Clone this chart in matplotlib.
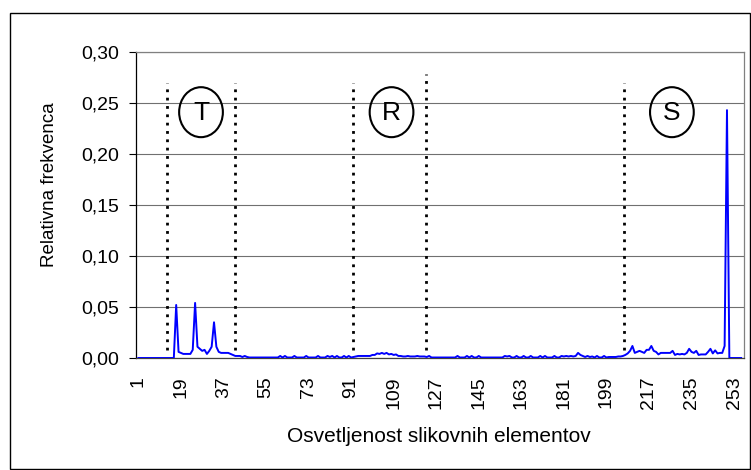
import matplotlib
matplotlib.use("Agg")
import matplotlib.pyplot as plt
from matplotlib.patches import Ellipse, Rectangle
from matplotlib.ticker import FuncFormatter

plt.rcParams['font.family'] = ['Liberation Sans', 'DejaVu Sans']

# Relative frequency per brightness level 1..256
values = [
    0, 0, 0, 0, 0, 0, 0, 0, 0, 0,
    0, 0, 0, 0, 0, 0, 0.052, 0.006, 0.005, 0.004,
    0.004, 0.004, 0.004, 0.008, 0.054, 0.011, 0.009, 0.007, 0.008, 0.004,
    0.007, 0.011, 0.035, 0.011, 0.006, 0.005, 0.005, 0.005, 0.005, 0.004,
    0.003, 0.002, 0.002, 0.002, 0.001, 0.002, 0.001, 0.0005, 0.0005, 0.0005,
    0.0005, 0.0005, 0.0005, 0.0005, 0.0005, 0.0005, 0.0005, 0.0005, 0.0005, 0.0005,
    0.002, 0.0005, 0.002, 0.0005, 0.0005, 0.0005, 0.002, 0.0005, 0.0005, 0.0005,
    0.0005, 0.002, 0.0005, 0.0005, 0.0005, 0.0005, 0.002, 0.0005, 0.0005, 0.0005,
    0.002, 0.001, 0.002, 0.0005, 0.002, 0.0005, 0.0005, 0.002, 0.0005, 0.002,
    0.0005, 0.001, 0.0015, 0.002, 0.002, 0.002, 0.002, 0.002, 0.002, 0.003,
    0.003, 0.0045, 0.004, 0.005, 0.004, 0.005, 0.0035, 0.004, 0.003, 0.0035,
    0.002, 0.002, 0.0015, 0.0015, 0.002, 0.0015, 0.0015, 0.0015, 0.002, 0.0015,
    0.0015, 0.0015, 0.001, 0.002, 0.0005, 0.0005, 0.0005, 0.0005, 0.0005, 0.0005,
    0.0005, 0.0005, 0.0005, 0.0005, 0.0005, 0.002, 0.0005, 0.0005, 0.0005, 0.002,
    0.0005, 0.002, 0.0005, 0.0005, 0.002, 0.0005, 0.0005, 0.0005, 0.0005, 0.0005,
    0.0005, 0.0005, 0.0005, 0.0005, 0.0005, 0.002, 0.0015, 0.002, 0.0005, 0.0005,
    0.002, 0.0005, 0.0005, 0.002, 0.0005, 0.0005, 0.002, 0.0005, 0.0005, 0.0005,
    0.002, 0.0005, 0.002, 0.0005, 0.0005, 0.0005, 0.002, 0.0005, 0.0005, 0.002,
    0.0015, 0.002, 0.0015, 0.002, 0.0015, 0.002, 0.005, 0.003, 0.002, 0.001,
    0.002, 0.001, 0.0015, 0.0005, 0.002, 0.0005, 0.0005, 0.002, 0.0005, 0.001,
    0.001, 0.001, 0.001, 0.0015, 0.0015, 0.002, 0.003, 0.0045, 0.007, 0.0118,
    0.005, 0.006, 0.007, 0.006, 0.005, 0.008, 0.008, 0.0118, 0.007, 0.006,
    0.0035, 0.005, 0.005, 0.005, 0.005, 0.005, 0.007, 0.003, 0.004, 0.0035,
    0.004, 0.0035, 0.005, 0.009, 0.006, 0.005, 0.007, 0.003, 0.0035, 0.0035,
    0.0035, 0.006, 0.009, 0.0045, 0.0075, 0.0045, 0.005, 0.005, 0.0118, 0.243,
    0, 0, 0, 0, 0, 0,
]
levels = list(range(1, len(values) + 1))
xtick_labels = list(range(1, 254, 18))
yticks = [0.0, 0.05, 0.10, 0.15, 0.20, 0.25, 0.30]

# region separators and labels
sep_x = [13.2, 41.7, 91.8, 122.6, 206.3]
sep_top = [0.270, 0.270, 0.270, 0.278, 0.270]
region_names = ["T", "R", "S"]
region_x = [27.5, 108.1, 226.7]
region_y = [0.241, 0.241, 0.241]

W, H = 751, 470
fig = plt.figure(figsize=(W / 100, H / 100), dpi=100)
L, R, T, B = 136, 744, 52, 358
ax = fig.add_axes([L / W, 1 - B / H, (R - L) / W, (B - T) / H])

ax.set_xlim(0, 257.2)
ax.set_ylim(0, 0.30)

ax.yaxis.grid(True, color='#707070', linewidth=0.8)
ax.set_axisbelow(True)

for xs, top in zip(sep_x, sep_top):
    ax.plot([xs, xs], [0.008, top], color='black', linewidth=2.0,
            linestyle=(0, (1, 2)), zorder=2)

ax.plot(levels, values, color='#0000FF', linewidth=1.4, zorder=3)

for name, cx, cy in zip(region_names, region_x, region_y):
    ax.add_patch(Ellipse((cx, cy), width=18.5, height=0.049, fill=False,
                         edgecolor='black', linewidth=1.5, zorder=4))
    ax.text(cx, cy - 0.001, name, ha='center', va='center', fontsize=19,
            color='black', zorder=5)

ax.set_yticks(yticks)
ax.yaxis.set_major_formatter(FuncFormatter(lambda v, p: f"{v:.2f}".replace('.', ',')))
ax.set_xticks(xtick_labels)
ax.set_xticklabels([str(v) for v in xtick_labels], rotation=90)
ax.tick_params(axis='y', direction='out', length=5, width=0.8, pad=7,
               labelsize=14, colors='black')
ax.tick_params(axis='x', length=0, pad=13, labelsize=14)

ax.spines['left'].set_color('black')
ax.spines['bottom'].set_color('#404040')
ax.spines['top'].set_color('#808080')
ax.spines['right'].set_color('#808080')
for s in ax.spines.values():
    s.set_linewidth(0.9)

fig.text(439 / W, 1 - 436 / H, "Osvetljenost slikovnih elementov",
         ha='center', va='center', fontsize=15)
fig.text(50 / W, 1 - 185 / H, "Relativna frekvenca", rotation=90,
         ha='center', va='center', fontsize=13.5)

fig.patches.append(Rectangle((10 / W, 1 - 469 / H), 740 / W, 456 / H,
                             transform=fig.transFigure, fill=False,
                             edgecolor='black', linewidth=1.0))

fig.savefig("out.png", dpi=100)
